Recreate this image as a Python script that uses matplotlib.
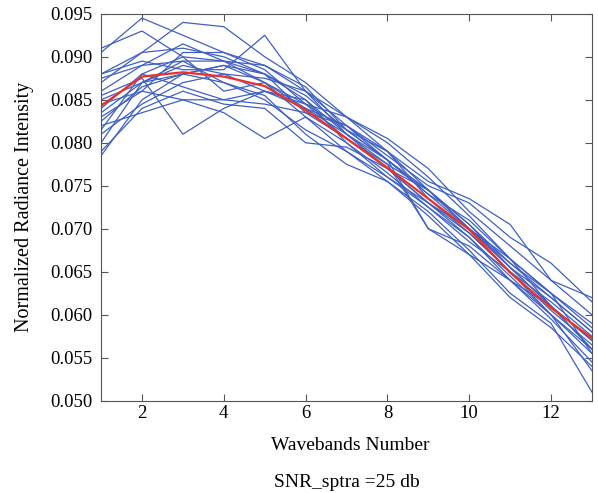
import numpy as np
import matplotlib.pyplot as plt

plt.rcParams['font.family'] = ['Liberation Serif', 'DejaVu Serif']

# Wavebands
bands = list(range(1, 14))

# Noisy spectra (SNR 25 db)
noisy_spectra = [
    [0.0905, 0.0945, 0.0925, 0.0905, 0.0890, 0.0860, 0.0820, 0.0790, 0.0745, 0.0705, 0.0660, 0.0620, 0.0580],
    [0.0910, 0.0930, 0.0900, 0.0895, 0.0880, 0.0850, 0.0810, 0.0770, 0.0730, 0.0690, 0.0640, 0.0600, 0.0555],
    [0.0880, 0.0905, 0.0940, 0.0935, 0.0900, 0.0870, 0.0830, 0.0800, 0.0760, 0.0715, 0.0665, 0.0625, 0.0590],
    [0.0875, 0.0890, 0.0915, 0.0895, 0.0870, 0.0840, 0.0820, 0.0780, 0.0745, 0.0700, 0.0655, 0.0610, 0.0560],
    [0.0855, 0.0875, 0.0810, 0.0840, 0.0860, 0.0850, 0.0800, 0.0765, 0.0725, 0.0690, 0.0645, 0.0600, 0.0560],
    [0.0830, 0.0860, 0.0905, 0.0905, 0.0885, 0.0845, 0.0815, 0.0780, 0.0700, 0.0680, 0.0640, 0.0595, 0.0545],
    [0.0820, 0.0835, 0.0850, 0.0835, 0.0805, 0.0830, 0.0800, 0.0760, 0.0730, 0.0695, 0.0650, 0.0615, 0.0575],
    [0.0810, 0.0845, 0.0870, 0.0880, 0.0875, 0.0860, 0.0830, 0.0805, 0.0770, 0.0720, 0.0680, 0.0640, 0.0600],
    [0.0800, 0.0870, 0.0890, 0.0880, 0.0860, 0.0840, 0.0810, 0.0780, 0.0740, 0.0710, 0.0665, 0.0625, 0.0585],
    [0.0785, 0.0850, 0.0880, 0.0870, 0.0850, 0.0815, 0.0790, 0.0760, 0.0725, 0.0685, 0.0650, 0.0600, 0.0535],
    [0.0840, 0.0880, 0.0865, 0.0850, 0.0860, 0.0845, 0.0805, 0.0770, 0.0745, 0.0705, 0.0655, 0.0610, 0.0570],
    [0.0860, 0.0890, 0.0895, 0.0870, 0.0855, 0.0810, 0.0775, 0.0755, 0.0720, 0.0675, 0.0625, 0.0590, 0.0510],
    [0.0845, 0.0860, 0.0850, 0.0850, 0.0845, 0.0835, 0.0820, 0.0785, 0.0750, 0.0730, 0.0690, 0.0660, 0.0615],
    [0.0825, 0.0865, 0.0880, 0.0890, 0.0870, 0.0830, 0.0790, 0.0755, 0.0715, 0.0670, 0.0620, 0.0585, 0.0540],
    [0.0870, 0.0905, 0.0910, 0.0900, 0.0880, 0.0855, 0.0815, 0.0780, 0.0740, 0.0700, 0.0655, 0.0620, 0.0580],
    [0.0815, 0.0880, 0.0900, 0.0860, 0.0870, 0.0845, 0.0830, 0.0790, 0.0755, 0.0735, 0.0705, 0.0640, 0.0620],
    [0.0880, 0.0895, 0.0885, 0.0885, 0.0925, 0.0860, 0.0810, 0.0775, 0.0700, 0.0670, 0.0640, 0.0610, 0.0570],
    [0.0790, 0.0840, 0.0860, 0.0845, 0.0840, 0.0800, 0.0795, 0.0770, 0.0730, 0.0700, 0.0660, 0.0625, 0.0555],
    [0.0850, 0.0870, 0.0880, 0.0890, 0.0880, 0.0835, 0.0805, 0.0775, 0.0745, 0.0700, 0.0665, 0.0610, 0.0560],
    [0.0835, 0.0870, 0.0895, 0.0895, 0.0890, 0.0865, 0.0815, 0.0790, 0.0735, 0.0695, 0.0650, 0.0605, 0.0565],
]

# Original (noise free) spectrum
clean_spectrum = [0.0843, 0.0877, 0.0882, 0.0877, 0.0866, 0.0838, 0.0805,
                  0.0771, 0.0735, 0.0699, 0.0649, 0.0608, 0.0573]

fig = plt.figure(figsize=(5.98, 4.93), dpi=100)
ax = fig.add_axes([0.169, 0.187, 0.821, 0.785])

for s in noisy_spectra:
    ax.plot(bands, s, color='#3f60c2', lw=0.9)
ax.plot(bands, clean_spectrum, color='#ee3124', lw=1.6)

ax.set_xlim(1, 13)
ax.set_ylim(0.050, 0.095)
ax.set_xticks([2, 4, 6, 8, 10, 12])
ax.set_yticks(np.arange(0.050, 0.0951, 0.005))
ax.yaxis.set_major_formatter(plt.FormatStrFormatter('%.3f'))
ax.tick_params(direction='in', top=True, right=True, length=5,
               labelsize=13.5, color='#555555')
ax.tick_params(axis='x', pad=3)
ax.tick_params(axis='y', pad=6.5)
for sp in ax.spines.values():
    sp.set_color('#555555')

ax.set_ylabel('Normalized Radiance Intensity', fontsize=14.5)
ax.yaxis.set_label_coords(-0.136, 0.5)
fig.text(0.585, 0.097, 'Wavebands Number', ha='center', va='center', fontsize=14)
fig.text(0.58, 0.022, 'SNR_sptra =25 db', ha='center', va='center', fontsize=14)

fig.savefig('out.png', dpi=100)
